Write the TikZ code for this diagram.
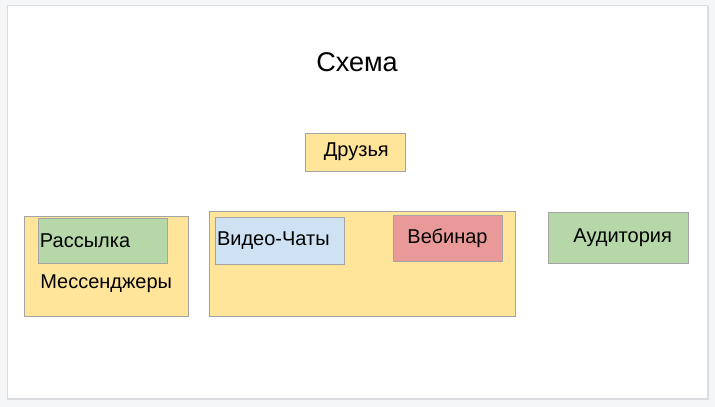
\documentclass[tikz,border=0pt]{standalone}
\usepackage{fontspec}
\setmainfont{Liberation Sans}
\definecolor{pagebg}{HTML}{F5F6F8}
\definecolor{slideline}{HTML}{DADCE0}
\definecolor{boxline}{HTML}{A4A4A4}
\definecolor{sunny}{HTML}{FFE599}
\definecolor{leaf}{HTML}{B6D7A8}
\definecolor{sky}{HTML}{CFE2F3}
\definecolor{rose}{HTML}{EA9999}
\tikzset{
  box/.style={draw=boxline, line width=0.75pt, inner sep=0pt, font=\fontsize{15}{18}\selectfont},
  txt/.style={inner sep=0pt, font=\fontsize{15}{18}\selectfont}
}
\begin{document}
\begin{tikzpicture}[x=0.75pt, y=-0.75pt]
% page and slide
\fill[pagebg] (0,0) rectangle (715,407);
\useasboundingbox (0,0) rectangle (715,407);
\draw[slideline, line width=1.2pt] (8,6.5) rectangle (708.5,399);
\draw[slideline, fill=white, line width=0.6pt] (7,5) rectangle (707.5,398);
% title
\node[txt, font=\fontsize{20.3}{24}\selectfont] (title) at (357,62) {Схема};
\node[box, fill=sunny, minimum width=75pt, minimum height=28.5pt] (friends) at (355,152) {\hspace{2pt}Друзья};
% Messengers group
\node[box, fill=sunny, minimum width=123pt, minimum height=75pt] (msg) at (106,266) {};
\node[box, fill=leaf, minimum height=33.75pt, text width=93.75pt, inner xsep=1.5pt, align=left] (mail) at (102.5,240.5) {Рассылка};
\node[txt, anchor=west] (msglabel) at (40,284) {Мессенджеры};
% Video group
\node[box, fill=sunny, minimum width=229.5pt, minimum height=78.75pt] (video) at (362,263.5) {};
\node[box, fill=sky, minimum height=35.25pt, text width=93.75pt, inner xsep=1.5pt, align=left] (chats) at (279.5,240.5) {Видео-Чаты};
\node[box, fill=rose, minimum width=81.75pt, minimum height=34.5pt] (webinar) at (447.5,238) {Вебинар};
% Audience
\node[box, fill=leaf, minimum width=105pt, minimum height=38.25pt] (audience) at (618,237.5) {\hspace{7pt}Аудитория};
\end{tikzpicture}
\end{document}
